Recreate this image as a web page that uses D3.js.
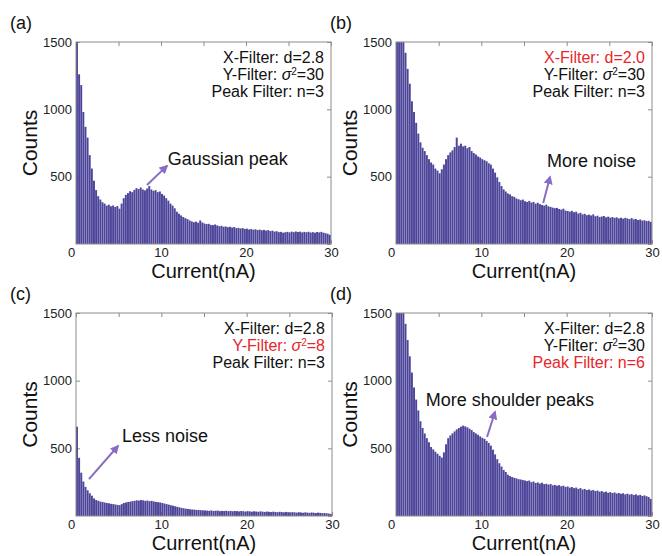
<!DOCTYPE html>
<html>
<head>
<meta charset="utf-8">
<script src="https://cdn.jsdelivr.net/npm/d3@7"></script>
<style>
  body { margin: 0; background: #fff; }
  svg { font-family: "Liberation Sans", Arial, sans-serif; }
</style>
</head>
<body>
<div id="chart"></div>
<script>
// histogram bins: 0.25 nA wide, 0..30 nA
const binWidth = 0.25;

const countsA = [
  1600, 1260, 1180, 980, 870, 790, 660, 560, 470, 400,
  355, 330, 310, 300, 285, 292, 280, 286, 275, 282,
  262, 300, 340, 365, 378, 392, 385, 402, 415, 408,
  420, 405, 398, 412, 430, 405, 395, 400, 385, 390,
  372, 360, 340, 322, 300, 285, 265, 240, 225, 212,
  200, 192, 185, 175, 168, 162, 166, 158, 175, 160,
  152, 148, 150, 142, 140, 145, 138, 132, 135, 128,
  130, 125, 128, 122, 126, 118, 120, 115, 118, 112,
  114, 108, 111, 106, 109, 104, 107, 102, 105, 100,
  103, 96, 99, 92, 95, 88, 90, 84, 87, 90,
  86, 92, 88, 93, 89, 92, 86, 90, 87, 91,
  85, 88, 84, 89, 86, 90, 84, 80, 76, 68
];

const countsB = [
  1700, 1650, 1600, 1550, 1420, 1300, 1190, 1060, 980, 900,
  820, 755, 715, 690, 660, 630, 605, 590, 560, 545,
  525, 555, 590, 630, 660, 680, 695, 720, 790, 730,
  745, 725, 730, 712, 720, 690, 675, 665, 650, 642,
  630, 622, 615, 600, 590, 560, 530, 495, 460, 430,
  405, 390, 375, 368, 355, 350, 338, 332, 325, 330,
  318, 312, 320, 308, 312, 300, 306, 296, 290, 285,
  292, 280, 275, 270, 266, 268, 260, 255, 262, 248,
  245, 240, 246, 236, 240, 226, 232, 220, 224, 214,
  218, 212, 220, 206, 210, 200, 204, 208, 198, 203,
  196, 200, 194, 198, 190, 195, 188, 194, 190, 185,
  192, 183, 186, 178, 182, 174, 176, 170, 172, 164
];

const countsC = [
  660, 430, 320, 255, 215, 190, 168, 150, 130, 118,
  112, 106, 104, 100, 96, 94, 90, 88, 85, 82,
  80, 88, 96, 100, 104, 106, 110, 112, 116, 114,
  118, 116, 112, 114, 110, 112, 108, 104, 102, 100,
  96, 92, 88, 84, 80, 76, 72, 68, 64, 60,
  57, 54, 52, 50, 48, 47, 45, 44, 43, 42,
  41, 40, 38, 41, 37, 39, 40, 36, 38, 37,
  39, 36, 38, 35, 37, 36, 34, 37, 35, 33,
  36, 34, 32, 35, 33, 31, 34, 32, 30, 33,
  31, 29, 32, 30, 28, 31, 29, 27, 30, 28,
  26, 29, 27, 25, 28, 26, 24, 27, 25, 23,
  26, 24, 22, 25, 23, 21, 22, 20, 18, 15
];

const countsD = [
  1700, 1650, 1580, 1500, 1420, 1300, 1180, 1060, 950, 860,
  780, 700, 650, 610, 575, 545, 510, 492, 475, 460,
  445, 432, 470, 530, 575, 595, 610, 625, 640, 650,
  660, 668, 662, 655, 645, 635, 620, 610, 600, 588,
  578, 570, 555, 540, 520, 490, 455, 420, 390, 365,
  340, 325, 305, 295, 288, 282, 278, 272, 270, 266,
  262, 258, 262, 250, 255, 244, 248, 240, 246, 236,
  238, 232, 236, 226, 230, 224, 228, 220, 224, 215,
  218, 210, 214, 206, 210, 200, 206, 196, 200, 192,
  196, 188, 192, 184, 188, 180, 184, 176, 180, 172,
  176, 170, 174, 166, 170, 164, 168, 160, 165, 158,
  162, 155, 160, 152, 156, 148, 152, 146, 140, 126
];

const panelLabels = ["(a)", "(b)", "(c)", "(d)"];
const xTickValues = [0, 5, 10, 15, 20, 25, 30];
const xLabelValues = [0, 10, 20, 30];
const yTickValues = [0, 500, 1000, 1500];

// filter settings shown in each panel
const xFilter = ["2.8", "2.0", "2.8", "2.8"];
const yFilter = ["30", "30", "8", "30"];
const peakFilter = ["3", "3", "3", "6"];
// which legend line is red
const changed = [-1, 0, 1, 2];

// annotation: text anchor and arrow (tail -> head) in data units
const notes = [
  { text: "Gaussian peak", tx: 10.8, ty: 587, ax: [8.35, 438], ah: [10.7, 580] },
  { text: "More noise", tx: 17.7, ty: 572, ax: [17.25, 305], ah: [18.05, 498] },
  { text: "Less noise", tx: 5.4, ty: 547, ax: [1.52, 273], ah: [4.92, 517] },
  { text: "More shoulder peaks", tx: 3.5, ty: 813, ax: [10.67, 584], ah: [11.6, 768] }
];

const allCounts = [countsA, countsB, countsC, countsD];

const panels = [
  { x0: 76, y0: 42, w: 255, h: 202 },
  { x0: 396, y0: 42, w: 256, h: 202 },
  { x0: 76, y0: 313, w: 256, h: 203 },
  { x0: 396, y0: 313, w: 256, h: 203 }
];

const barColor = "#4d4599";
const arrowColor = "#8a6cc2";
const red = "#e8262b";

const svg = d3.select("#chart").append("svg")
  .attr("width", 662)
  .attr("height", 556);

svg.append("defs").append("marker")
  .attr("id", "head")
  .attr("viewBox", "0 0 10 10")
  .attr("refX", 8).attr("refY", 5)
  .attr("markerWidth", 4.5).attr("markerHeight", 4.5)
  .attr("orient", "auto")
  .append("path")
  .attr("d", "M0,0 L10,5 L0,10 z")
  .attr("fill", arrowColor);

panels.forEach((p, k) => {
  const g = svg.append("g");
  const x = d3.scaleLinear().domain([0, 30]).range([p.x0, p.x0 + p.w]);
  const y = d3.scaleLinear().domain([0, 1500]).range([p.y0 + p.h, p.y0]).clamp(true);

  // inward ticks on all four sides
  const bottom = g.append("g")
    .attr("transform", `translate(0,${p.y0 + p.h})`)
    .call(d3.axisBottom(x).tickValues(xTickValues).tickSizeInner(-4).tickSizeOuter(0)
      .tickPadding(4).tickFormat(d => (xLabelValues.includes(d) ? d : "")));
  bottom.selectAll("text").filter(d => d === 0).attr("dx", -5);

  g.append("g")
    .attr("transform", `translate(${p.x0},0)`)
    .call(d3.axisLeft(y).tickValues(yTickValues.slice(1)).tickSizeInner(-4).tickSizeOuter(0)
      .tickPadding(4).tickFormat(d3.format("d")));

  g.append("g")
    .attr("transform", `translate(0,${p.y0})`)
    .call(d3.axisTop(x).tickValues(xTickValues).tickSizeInner(-4).tickSizeOuter(0).tickFormat(""));

  g.append("g")
    .attr("transform", `translate(${p.x0 + p.w},0)`)
    .call(d3.axisRight(y).tickValues(yTickValues).tickSizeInner(-4).tickSizeOuter(0).tickFormat(""));

  g.selectAll(".domain").remove();
  g.selectAll(".tick line").attr("stroke", "#8c8c8c");
  g.selectAll(".tick text").attr("font-size", 13).attr("fill", "#222")
    .attr("font-family", "Liberation Sans, Arial, sans-serif");

  // bars
  g.append("g").selectAll("rect")
    .data(allCounts[k])
    .join("rect")
    .attr("x", (d, i) => x(i * binWidth))
    .attr("width", (d, i) => x((i + 1) * binWidth) - x(i * binWidth) - 0.18)
    .attr("y", d => y(d))
    .attr("height", d => y(0) - y(d))
    .attr("fill", barColor);

  // frame
  g.append("rect")
    .attr("x", p.x0).attr("y", p.y0)
    .attr("width", p.w).attr("height", p.h)
    .attr("fill", "none")
    .attr("stroke", "#8c8c8c");

  // axis titles
  g.append("text")
    .attr("x", (p.x0 + p.x0 + p.w) / 2)
    .attr("y", p.y0 + p.h + 34)
    .attr("text-anchor", "middle")
    .attr("font-size", 20)
    .attr("fill", "#111")
    .text("Current(nA)");

  g.append("text")
    .attr("transform", `translate(${p.x0 - 39},${p.y0 + p.h / 2}) rotate(-90)`)
    .attr("text-anchor", "middle")
    .attr("font-size", 21)
    .attr("fill", "#111")
    .text("Counts");

  // panel letter
  g.append("text")
    .attr("x", p.x0 - 66)
    .attr("y", p.y0 - 13)
    .attr("font-size", 18)
    .attr("fill", "#111")
    .text(panelLabels[k]);

  // filter legend, right aligned
  const leg = g.append("g").attr("font-size", 16).attr("text-anchor", "end");
  const lx = p.x0 + p.w - 7;
  const col = i => (changed[k] === i ? red : "#111");

  leg.append("text").attr("x", lx).attr("y", p.y0 + 21).attr("fill", col(0))
    .text("X-Filter: d=" + xFilter[k]);

  const yl = leg.append("text").attr("x", lx).attr("y", p.y0 + 38).attr("fill", col(1));
  yl.append("tspan").text("Y-Filter: ");
  yl.append("tspan").attr("font-style", "italic").text("σ");
  yl.append("tspan").attr("font-size", 10).attr("baseline-shift", "super").text("2");
  yl.append("tspan").text("=" + yFilter[k]);

  leg.append("text").attr("x", lx).attr("y", p.y0 + 55).attr("fill", col(2))
    .text("Peak Filter: n=" + peakFilter[k]);

  // annotation
  const n = notes[k];
  g.append("line")
    .attr("x1", x(n.ax[0])).attr("y1", y(n.ax[1]))
    .attr("x2", x(n.ah[0])).attr("y2", y(n.ah[1]))
    .attr("stroke", arrowColor)
    .attr("stroke-width", 2)
    .attr("marker-end", "url(#head)");

  g.append("text")
    .attr("x", x(n.tx)).attr("y", y(n.ty))
    .attr("font-size", 18)
    .attr("fill", "#111")
    .text(n.text);
});
</script>
</body>
</html>
